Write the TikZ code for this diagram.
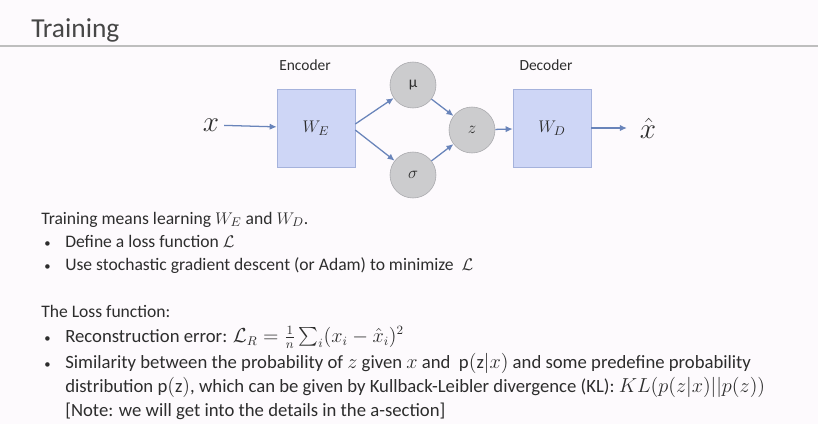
\documentclass[tikz,border=0pt]{standalone}
\usepackage{amsmath}
\usepackage{amssymb}
\usepackage{fontspec}
\setmainfont{Carlito}
\usepackage{xcolor}
\usepackage{tikz}
\usetikzlibrary{arrows.meta, positioning}
\definecolor{slidebg}{RGB}{253,250,253}
\definecolor{boxfill}{RGB}{206,214,246}
\definecolor{boxline}{RGB}{165,178,220}
\definecolor{nodefill}{RGB}{204,204,206}
\definecolor{nodeline}{RGB}{168,168,172}
\definecolor{arrowblue}{RGB}{105,132,186}
\definecolor{textgray}{RGB}{45,45,45}
\definecolor{rulegray}{RGB}{190,190,190}

\begin{document}
\begin{tikzpicture}[x=0.025cm, y=-0.025cm, font=\fontsize{12.5}{15}\selectfont, text=textgray,
  block/.style={draw=boxline, fill=boxfill, minimum width=1.95cm, minimum height=1.95cm, inner sep=0pt},
  latent/.style={circle, draw=nodeline, fill=nodefill, minimum size=1.15cm, inner sep=0pt},
  flow/.style={arrowblue, line width=0.9pt, -{Latex[length=5pt, width=4.5pt]}},
  line/.style={anchor=base west, inner sep=0pt},
  bigline/.style={line, font=\fontsize{13.3}{16}\selectfont},
  dot/.style={anchor=base west, inner sep=0pt, font=\fontsize{9}{10}\selectfont}]
  \fill[slidebg] (0,0) rectangle (818,424);
  \useasboundingbox (0,0) rectangle (818,424);
  % title
  \node[anchor=base west, inner sep=0pt, font=\fontsize{19.5}{23}\selectfont, text=black!72] (title) at (31,37) {Training};
  \draw[rulegray, line width=0.8pt] (0,46) -- (818,46);
  % network
  \node[block] (enc) at (316,128) {$W_E$};
  \node[block] (dec) at (552,128) {$W_D$};
  \node (enclbl) at (305,65) {\fontsize{11}{13}\selectfont Encoder};
  \node (declbl) at (546,65) {\fontsize{11}{13}\selectfont Decoder};
  \node[latent] (mu) at (413,85) {\fontsize{11}{13}\selectfont μ};
  \node[latent] (sigma) at (413,175) {$\sigma$};
  \node[latent] (z) at (472,130) {$z$};
  \node[font=\fontsize{22}{26}\selectfont] (x) at (211,125) {$x$};
  \node[font=\fontsize{22}{26}\selectfont] (xhat) at (648,128) {$\hat{x}$};
  \draw[flow] (x) -- (enc);
  \draw[flow] ([yshift=0.1cm]enc.east) -- (mu);
  \draw[flow] ([yshift=-0.05cm]enc.east) -- (sigma);
  \draw[flow] (mu) -- (z);
  \draw[flow] (sigma) -- (z);
  \draw[flow] (z) -- (dec);
  \draw[flow] (dec) -- ([xshift=-0.2cm]xhat.west);
  % text
  \node[line] (t1) at (41,224) {Training means learning $W_E$ and $W_D$.};
  \foreach \y/\txt [count=\i] in {247/{Define a loss function $\mathcal{L}$},
      270/{Use stochastic gradient descent (or Adam) to minimize~~$\mathcal{L}$}} {
    \node[dot] (b\i) at (44,\y) {\textbullet};
    \node[line] (l\i) at (65,\y) {\txt};
  }
  \node[line] (t2) at (41,317) {The Loss function:};
  \node[dot] (b3) at (44,342) {\textbullet};
  \node[bigline] (l3) at (65,342) {Reconstruction error: $\mathcal{L}_R=\frac{1}{n}\sum_i(x_i-\hat{x}_i)^2$};
  \node[dot] (b4) at (44,368) {\textbullet};
  \node[bigline] (l4) at (65,368) {Similarity between the probability of $z$ given $x$ and ~$\mathrm{p}(\mathrm{z}|x)$ and some predefine probability};
  \node[bigline] (l5) at (65,392) {distribution $\mathrm{p}(\mathrm{z})$, which can be given by Kullback-Leibler divergence (KL): $KL(p(z|x)||p(z))$};
  \node[bigline] (l6) at (65,416) {[Note: we will get into the details in the a-section]};
\end{tikzpicture}
\end{document}
